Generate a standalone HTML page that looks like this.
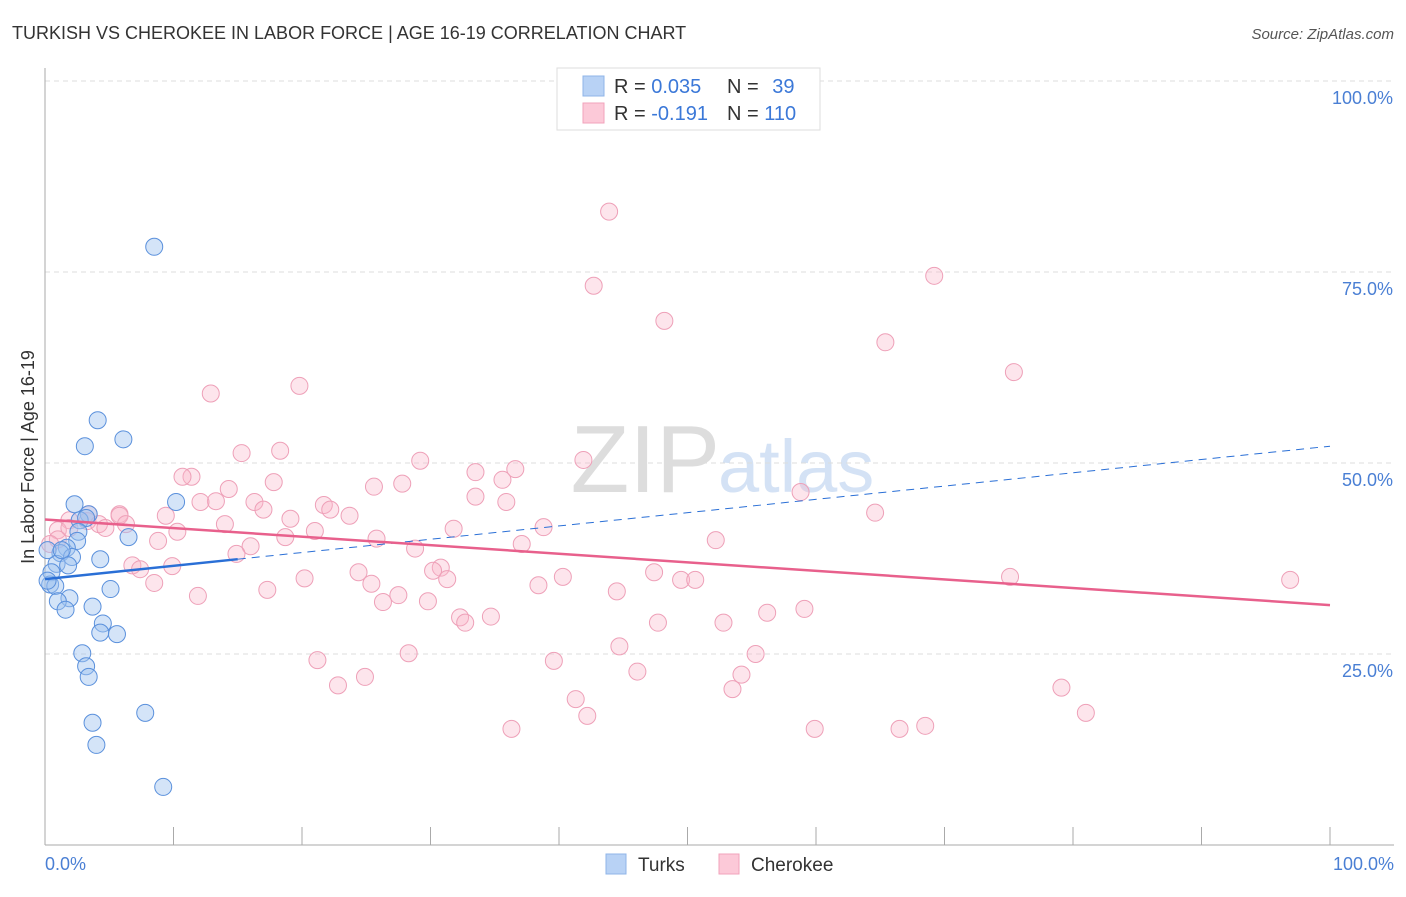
<!DOCTYPE html>
<html><head><meta charset="utf-8"><style>
body{margin:0;background:#fff;font-family:"Liberation Sans",sans-serif}
svg text{font-family:"Liberation Sans",sans-serif}
</style></head><body>
<svg width="1406" height="892" viewBox="0 0 1406 892">
<text x="12" y="39" font-size="18" fill="#333">TURKISH VS CHEROKEE IN LABOR FORCE | AGE 16-19 CORRELATION CHART</text>
<text x="1394" y="39" font-size="15" fill="#555" font-style="italic" text-anchor="end">Source: ZipAtlas.com</text>
<text x="720" y="492" font-size="96" fill="#ddd" text-anchor="end" font-family="Liberation Serif">ZIP</text>
<text x="718" y="492" font-size="74" fill="#d4e2f5">atlas</text>
<g id="grid"></g>
<line x1="45" y1="68" x2="45" y2="845" stroke="#aaa"/>
<line x1="45" y1="845" x2="1394" y2="845" stroke="#aaa"/>
<g id="xt"></g>
<text x="45" y="870" font-size="18" fill="#4a7fd4">0.0%</text>
<text x="1394" y="870" font-size="18" fill="#4a7fd4" text-anchor="end">100.0%</text>
<text transform="translate(34,457) rotate(-90)" font-size="18" fill="#333" text-anchor="middle">In Labor Force | Age 16-19</text>
<g id="pts"></g>
<g id="trend"></g>
<g>
<rect x="557" y="68" width="263" height="62" fill="#fff" stroke="#ddd"/>
<rect x="583" y="76" width="21" height="20" fill="#b8d2f5" stroke="#8fb4e8"/>
<rect x="583" y="103" width="21" height="20" fill="#fcc9d8" stroke="#f2a3bb"/>
<text x="614" y="93" font-size="20" fill="#333">R = <tspan fill="#3b78d8">0.035</tspan></text>
<text x="727" y="93" font-size="20" fill="#333">N = <tspan fill="#3b78d8" dx="8">39</tspan></text>
<text x="614" y="120" font-size="20" fill="#333">R = <tspan fill="#3b78d8">-0.191</tspan></text>
<text x="727" y="120" font-size="20" fill="#333">N = <tspan fill="#3b78d8">110</tspan></text>
</g>
<g>
<rect x="606" y="854" width="20" height="20" fill="#b8d2f5" stroke="#8fb4e8"/>
<text x="638" y="871" font-size="19" fill="#333">Turks</text>
<rect x="719" y="854" width="20" height="20" fill="#fcc9d8" stroke="#f2a3bb"/>
<text x="751" y="871" font-size="19" fill="#333">Cherokee</text>
</g>
</svg>
<script>
const yTicks=[25,50,75,100];
const yTickLabels=["25.0%","50.0%","75.0%","100.0%"];
const turksX=[8.5,4.1,3.1,6.1,2.3,10.2,3.4,2.7,3.2,2.6,6.5,2.5,1.7,1.2,2.1,0.9,1.8,4.3,0.5,0.4,0.8,5.1,1.9,1.0,3.7,1.6,4.5,4.3,5.6,2.9,3.2,3.4,7.8,3.7,4.0,9.2,0.2,1.3,0.2];
const turksY=[78.3,55.6,52.2,53.1,44.6,44.9,43.3,42.5,42.8,41.0,40.3,39.8,38.9,38.2,37.7,36.8,36.6,37.4,35.7,34.1,33.9,33.5,32.3,31.9,31.2,30.8,29.0,27.8,27.6,25.1,23.4,22.0,17.3,16.0,13.1,7.6,38.6,38.6,34.6];
const cherX=[43.9,42.7,69.2,48.2,65.4,75.4,19.8,12.9,18.3,15.3,29.2,41.9,11.4,10.7,33.5,36.6,17.8,35.6,25.6,27.8,14.3,33.5,13.3,12.1,16.3,35.9,58.8,21.7,17.0,22.2,5.8,3.4,5.8,9.4,23.7,19.1,64.6,3.3,1.9,4.2,6.3,14.0,4.7,10.3,21.0,31.8,18.7,38.8,1.0,1.9,37.1,25.8,8.8,52.2,16.0,14.9,28.8,6.8,9.9,7.4,30.8,47.4,24.4,30.2,31.3,20.2,40.3,49.5,50.6,75.1,96.9,8.5,25.4,38.4,11.9,44.5,17.3,27.5,29.8,26.3,32.3,34.7,32.7,47.7,56.2,59.1,52.8,44.7,28.3,21.2,55.3,39.6,46.1,22.8,24.9,54.2,53.5,41.3,42.2,36.3,59.9,66.5,68.5,79.1,81.0,1.0,0.4];
const cherY=[82.9,73.2,74.5,68.6,65.8,61.9,60.1,59.1,51.6,51.3,50.3,50.4,48.2,48.2,48.8,49.2,47.5,47.8,46.9,47.3,46.6,45.6,45.0,44.9,44.9,44.9,46.2,44.5,43.9,43.9,43.3,43.3,43.1,43.1,43.1,42.7,43.5,42.4,42.5,42.0,42.0,42.0,41.5,41.0,41.1,41.4,40.3,41.6,41.2,41.5,39.4,40.1,39.8,39.9,39.1,38.1,38.8,36.6,36.5,36.1,36.3,35.7,35.7,35.9,34.8,34.9,35.1,34.7,34.7,35.1,34.7,34.3,34.2,34.0,32.6,33.2,33.4,32.7,31.9,31.8,29.8,29.9,29.1,29.1,30.4,30.9,29.1,26.0,25.1,24.2,25.0,24.1,22.7,20.9,22.0,22.3,20.4,19.1,16.9,15.2,15.2,15.2,15.6,20.6,17.3,40.0,39.4];
const turksTrend=[34.8,52.2];
const cherTrend=[42.6,31.4];
const sx=v=>45+v*12.85, sy=v=>845-v*7.64;
const NS="http://www.w3.org/2000/svg";
function mk(t,a,p){const e=document.createElementNS(NS,t);for(const k in a)e.setAttribute(k,a[k]);p.appendChild(e);return e;}
const grid=document.getElementById('grid');
yTicks.forEach((v,i)=>{
 const l=mk('line',{x1:45,x2:1394,y1:sy(v),y2:sy(v),stroke:'#ddd','stroke-dasharray':'5,4'},grid);
 
 
 const t=mk('text',{x:1393,y:sy(v)+23,'font-size':18,fill:'#4a7fd4','text-anchor':'end'},grid);
 t.textContent=yTickLabels[i];
 
 
});
const xt=document.getElementById('xt');
for(let i=1;i<=10;i++){const l=mk('line',{x1:sx(i*10),x2:sx(i*10),y1:827,y2:845,stroke:'#aaa'},xt);
 
 }
const pts=document.getElementById('pts');
cherX.forEach((x,i)=>{const c=mk('circle',{cx:sx(x),cy:sy(cherY[i]),r:8.5,fill:'rgba(248,180,200,0.35)',stroke:'#eea0b8','stroke-width':1},pts);
 
 });
turksX.forEach((x,i)=>{const c=mk('circle',{cx:sx(x),cy:sy(turksY[i]),r:8.5,fill:'rgba(160,195,240,0.45)',stroke:'#5a90dc','stroke-width':1},pts);
 
 });
const tr=document.getElementById('trend');
const ty=x=>turksTrend[0]+(turksTrend[1]-turksTrend[0])*x/100;
let a=mk('line',{x1:sx(0),y1:sy(ty(0)),x2:sx(15),y2:sy(ty(15)),stroke:'#2a6fd6','stroke-width':2.5},tr);


a=mk('line',{x1:sx(15),y1:sy(ty(15)),x2:sx(100),y2:sy(ty(100)),stroke:'#2a6fd6','stroke-width':1,'stroke-dasharray':'8,6'},tr);


a=mk('line',{x1:sx(0),y1:sy(cherTrend[0]),x2:sx(100),y2:sy(cherTrend[1]),stroke:'#e8608c','stroke-width':2.5},tr);


</script>
</body></html>
